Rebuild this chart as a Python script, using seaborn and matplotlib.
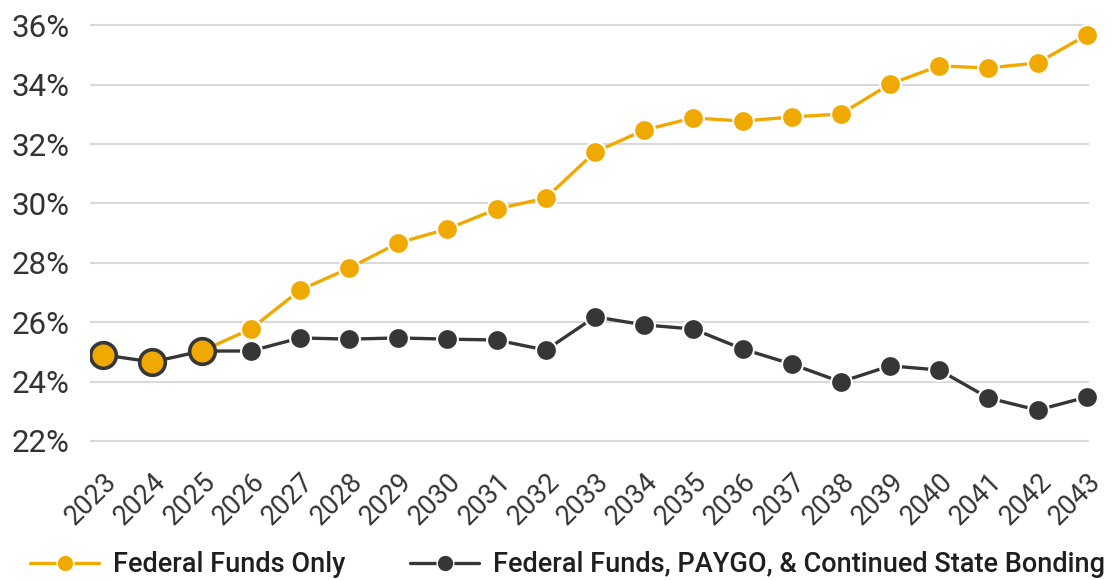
import matplotlib
matplotlib.use("Agg")
import matplotlib.pyplot as plt
from matplotlib.lines import Line2D
import seaborn as sns
import pandas as pd

years = [str(y) for y in range(2023, 2044)]
federal_only = [24.90, 24.66, 25.03, 25.77, 27.08, 27.82, 28.67, 29.14, 29.81, 30.18,
                31.73, 32.47, 32.88, 32.77, 32.91, 33.01, 34.02, 34.63, 34.56, 34.73, 35.67]
federal_paygo = [24.90, 24.66, 25.03, 25.03, 25.47, 25.43, 25.47, 25.43, 25.40, 25.06,
                 26.18, 25.91, 25.77, 25.10, 24.59, 23.99, 24.53, 24.39, 23.45, 23.04, 23.48]
series_names = ["Federal Funds Only", "Federal Funds, PAYGO, & Continued State Bonding"]
y_ticks = [22, 24, 26, 28, 30, 32, 34, 36]
n_actual = 3  # 2023-2025 shared history

YELLOW = "#F0A900"
DARK = "#363636"
GRID = "#d9d9d9"
TEXT = "#333333"

sns.set_theme(style="white")
plt.rcParams["font.family"] = ["Roboto", "DejaVu Sans"]

df = pd.DataFrame({
    "year": years * 2,
    "idx": list(range(len(years))) * 2,
    "value": federal_only + federal_paygo,
    "series": [series_names[0]] * len(years) + [series_names[1]] * len(years),
})
proj_only = df[(df.series == series_names[0]) & (df.idx >= n_actual - 1)]
paygo = df[df.series == series_names[1]]
hist = df[(df.series == series_names[0]) & (df.idx < n_actual)]

fig = plt.figure(figsize=(11.18, 5.80), dpi=100)
ax = fig.add_axes([90 / 1118, 1 - 455.85 / 580, (1100 - 90) / 1118, (455.85 - 10.35) / 580])

x_lo, x_hi = -0.27, 20.27
ax.hlines(y_ticks, x_lo, 20.05, color=GRID, lw=1.5, zorder=0)

# projection lines
sns.lineplot(data=proj_only, x="idx", y="value", color=YELLOW, lw=2.4,
             marker="o", markersize=15, markeredgecolor="white", markeredgewidth=1.5,
             ax=ax, zorder=2, legend=False)
sns.lineplot(data=paygo, x="idx", y="value", color=DARK, lw=2.4,
             marker="o", markersize=15, markeredgecolor="white", markeredgewidth=1.5,
             ax=ax, zorder=3, legend=False)
# shared historical points
sns.scatterplot(data=hist, x="idx", y="value", color=YELLOW, s=340,
                edgecolor=DARK, linewidth=2.6, ax=ax, zorder=4, legend=False)

ax.set_xlim(x_lo, x_hi)
ax.set_ylim(21.5, 36.5)
ax.set_yticks(y_ticks)
ax.set_yticklabels([f"{t}%" for t in y_ticks], fontsize=22.5, color=TEXT)
ax.set_xticks(range(len(years)))
ax.set_xticklabels(years, fontsize=19.5, color=TEXT, rotation=45, ha="right",
                   rotation_mode="anchor")
ax.tick_params(axis="y", length=0, pad=15)
ax.tick_params(axis="x", length=0, pad=9)
ax.set_xlabel("")
ax.set_ylabel("")
for s in ax.spines.values():
    s.set_visible(False)

handles = [
    Line2D([], [], color=YELLOW, lw=2.4, marker="o", markersize=12,
           markeredgecolor="white", markeredgewidth=1),
    Line2D([], [], color=DARK, lw=2.4, marker="o", markersize=12,
           markeredgecolor="white", markeredgewidth=1),
]
fig.legend(handles, series_names, loc="center left", bbox_to_anchor=(30 / 1118, 1 - 565 / 580),
           ncol=2, frameon=False, handlelength=2.55, columnspacing=2.4,
           handletextpad=0.5, labelcolor="#1f1f1f", borderaxespad=0, borderpad=0,
           prop={"family": ["Roboto", "DejaVu Sans"], "size": 19.5, "weight": "medium"})

fig.savefig("out.png", dpi=100)
